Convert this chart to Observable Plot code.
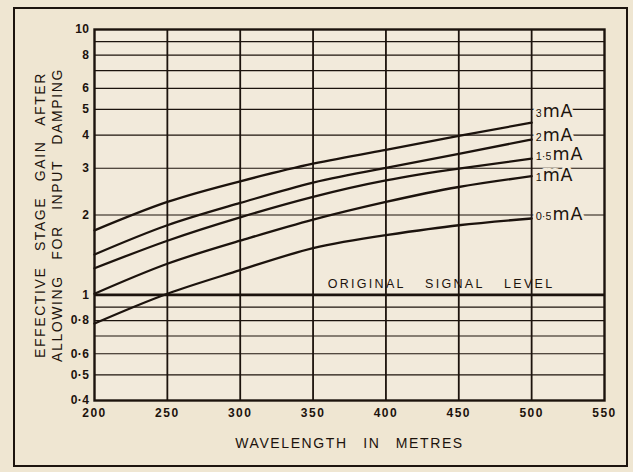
<!DOCTYPE html>
<html><head><meta charset="utf-8">
<script src="https://cdn.jsdelivr.net/npm/d3@7"></script>
<script src="https://cdn.jsdelivr.net/npm/@observablehq/plot@0.6"></script>
<style>
html,body{margin:0;padding:0;background:#efe6d2;}
#wrap{position:relative;width:633px;height:472px;overflow:hidden;background:#efe6d2;}
#frame{position:absolute;left:13px;top:7px;width:611px;height:456px;border:2.5px solid #1d140e;pointer-events:none;}
#chart{position:absolute;left:0;top:0;}
g[aria-label="x-axis tick label"] text{letter-spacing:1.5px;}
</style></head><body>
<div id="wrap"><div id="chart"></div><div id="frame"></div></div>
<script>
const wavelength = [200, 250, 300, 350, 400, 450, 500];
const gain3mA  = [1.75, 2.24, 2.68, 3.12, 3.52, 3.97, 4.46];
const gain2mA  = [1.42, 1.83, 2.22, 2.65, 3.01, 3.40, 3.85];
const gain15mA = [1.26, 1.60, 1.96, 2.34, 2.70, 2.99, 3.26];
const gain1mA  = [1.01, 1.31, 1.60, 1.92, 2.24, 2.55, 2.80];
const gain05mA = [0.78, 1.01, 1.24, 1.50, 1.68, 1.83, 1.94];
const seriesNames = ["3", "2", "1·5", "1", "0·5"];
const seriesGains = [gain3mA, gain2mA, gain15mA, gain1mA, gain05mA];
const labelLevels = [4.8, 3.9, 3.3, 2.76, 1.97];
const xTicks = [200, 250, 300, 350, 400, 450, 500, 550];
const yTicks = [0.4, 0.5, 0.6, 0.8, 1, 2, 3, 4, 5, 6, 8, 10];
const yTickLabels = ["0·4", "0·5", "0·6", "0·8", "1", "2", "3", "4", "5", "6", "8", "10"];
const yGrid = [0.4, 0.5, 0.6, 0.7, 0.8, 0.9, 1, 2, 3, 4, 5, 6, 7, 8, 9, 10];
const referenceLevel = 1;
const referenceLabel = "ORIGINAL SIGNAL LEVEL";
const referenceLabelAt = 360;
const xTitle = "WAVELENGTH IN METRES";
const yTitle1 = "EFFECTIVE STAGE GAIN AFTER";
const yTitle2 = "ALLOWING FOR INPUT DAMPING";

const ink = "#1c130d";
const paper = "#f2eadb";

const rows = [];
seriesNames.forEach((s, i) => wavelength.forEach((w, j) => rows.push({series: s, wavelength: w, gain: seriesGains[i][j]})));
const labelRows = seriesNames.map((s, i) => ({series: s, level: labelLevels[i]}));
const yTickRows = yTicks.map((v, i) => ({value: v, label: yTickLabels[i]}));

const chart = Plot.plot({
  width: 633, height: 472,
  marginLeft: 94, marginRight: 29, marginTop: 29, marginBottom: 72,
  style: {fontFamily: "Liberation Sans, Arial, sans-serif", background: "transparent", color: ink},
  x: {domain: [200, 550]},
  y: {type: "log", domain: [0.4, 10], axis: null},
  marks: [
    Plot.frame({fill: paper, stroke: null}),
    Plot.ruleY(yGrid, {x1: 200, x2: 550, stroke: ink, strokeWidth: d => d === referenceLevel ? 2.8 : 1.2}),
    Plot.ruleX(xTicks.slice(1, -1), {y1: 0.4, y2: 10, stroke: ink, strokeWidth: 1.8}),
    Plot.frame({stroke: ink, strokeWidth: 2.4}),
    Plot.line(rows, {x: "wavelength", y: "gain", z: "series", curve: "natural", stroke: ink, strokeWidth: 2.3}),
    Plot.text(labelRows, {x: 500, y: "level", text: d => d.series + "mA", dx: 4, textAnchor: "start",
      fill: ink, stroke: paper, strokeWidth: 6, paintOrder: "stroke"}),
    Plot.text([referenceLabel], {x: referenceLabelAt, y: referenceLevel, dy: -11, textAnchor: "start",
      fontSize: 12.5, fill: ink}),
    Plot.axisX({ticks: xTicks, tickSize: 0, tickPadding: 8, fontSize: 12, fontWeight: "bold", label: null}),
    Plot.text(yTickRows, {frameAnchor: "left", y: "value", text: "label", textAnchor: "end", dx: -5,
      fontSize: 12, fontWeight: "bold", fill: ink}),
    Plot.text([xTitle], {frameAnchor: "bottom", textAnchor: "middle", lineAnchor: "middle", dy: 43, fontSize: 14, fill: ink}),
    Plot.text([yTitle1], {frameAnchor: "left", textAnchor: "middle", rotate: -90, lineAnchor: "middle", dx: -54, fontSize: 14, fill: ink}),
    Plot.text([yTitle2], {frameAnchor: "left", textAnchor: "middle", rotate: -90, lineAnchor: "middle", dx: -37, fontSize: 14, fill: ink})
  ]
});
document.getElementById("chart").append(chart);

const svg = d3.select(chart);
// letter-spaced capitals as in the printed figure
svg.selectAll("text").filter(function() {
  const s = this.textContent;
  return s === xTitle || s === yTitle1 || s === yTitle2;
}).style("letter-spacing", "1.6px").style("word-spacing", "10px");
svg.selectAll("text").filter(function() { return this.textContent === referenceLabel; })
  .style("letter-spacing", "2.3px").style("word-spacing", "14px");
svg.selectAll("text").filter(function() { return yTickLabels.includes(this.textContent); })
  .style("letter-spacing", "0.5px");

// split each curve label into a small current figure and a larger "mA"
svg.selectAll("text").filter(function() { return /mA$/.test(this.textContent) && this.childElementCount === 0; }).each(function() {
  const t = d3.select(this);
  const num = t.text().replace("mA", "");
  t.text("");
  t.append("tspan").attr("font-size", 11).text(num);
  t.append("tspan").attr("font-size", 17.5).attr("font-family", "DejaVu Sans, sans-serif")
    .attr("dx", 1).style("letter-spacing", "0.8px").text("mA");
});
</script>
</body></html>
